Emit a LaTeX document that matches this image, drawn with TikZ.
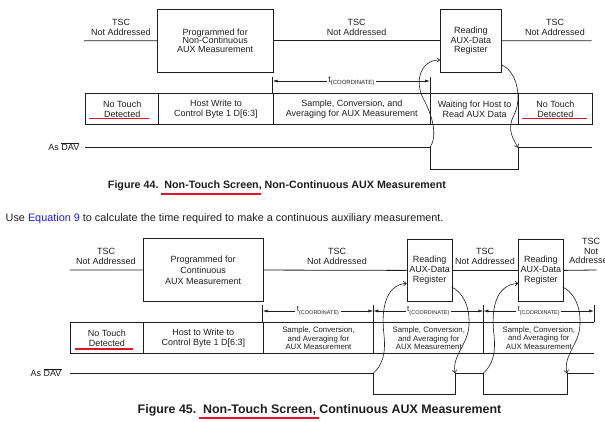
\documentclass[tikz,border=0pt]{standalone}
\usepackage{fontspec}
\setmainfont{Liberation Sans}
\usetikzlibrary{arrows.meta}
\definecolor{ulred}{RGB}{226,18,38}
\definecolor{linkblue}{RGB}{25,25,240}
\definecolor{ink}{RGB}{30,30,30}
\newcommand{\tcoordlbl}[2]{\fontsize{#1}{#1}\selectfont t\raisebox{-0.28em}{\fontsize{#2}{#2}\selectfont(COORDINATE)}}
\begin{document}
\begin{tikzpicture}[x=1pt,y=-1pt,
  every node/.style={text=ink,font=\fontsize{9}{10}\selectfont,inner sep=0pt},
  box/.style={draw=ink,line width=0.8pt,align=center,anchor=north west},
  cell/.style={draw=ink,line width=0.9pt,align=center,anchor=north west},
  lbl/.style={align=center},
  wire/.style={draw=ink,line width=0.8pt},
  rowline/.style={draw=ink,line width=0.9pt},
  dim/.style={draw=ink,line width=0.6pt,{Latex[length=5pt,width=3pt]}-{Latex[length=5pt,width=3pt]}},
  tick/.style={draw=ink,line width=0.6pt},
  flow/.style={draw=ink,line width=0.6pt,-{To[length=3.5pt,width=5pt]}},
  redline/.style={draw=ulred,line width=1.7pt},
  small/.style={font=\fontsize{7.8}{8.3}\selectfont},
  tlab/.style={fill=white,inner xsep=1.5pt,inner ysep=1pt},
]
\useasboundingbox (0,0) rectangle (605,422);

% ================= TOP DIAGRAM =================
\node[box,minimum width=115.7,minimum height=62.7,font=\fontsize{9}{8.6}\selectfont] (progA) at (157,9) {Programmed for\\Non-Continuous\\AUX Measurement};
\node[box,minimum width=61,minimum height=62.7,font=\fontsize{9}{9.6}\selectfont] (readA) at (440,9) {Reading\\AUX-Data\\Register};

\node[lbl] (tscA1) at (121,27.3) {TSC\\Not Addressed};
\node[lbl] (tscA2) at (356.7,27.3) {TSC\\Not Addressed};
\node[lbl] (tscA3) at (555,27.3) {TSC\\Not Addressed};

\coordinate (lA0) at (84,40.7);
\coordinate (lA1) at (591.7,40.7);
\draw[wire] (lA0) -- (progA.west);
\draw[wire] (progA.east) -- (readA.west);
\draw[wire] (readA.east) -- (lA1);

\node[cell,minimum width=73,minimum height=31.6] (a1) at (85.3,92.7) {No Touch\\Detected};
\node[cell,minimum width=114.4,minimum height=31.6] (a2) at (158.3,92.7) {Host Write to\\Control Byte 1 D[6:3]};
\node[cell,minimum width=157.3,minimum height=31.6] (a3) at (272.7,92.7) {Sample, Conversion, and\\Averaging for AUX Measurement};
\node[cell,minimum width=88.3,minimum height=31.6] (a4) at (430,92.7) {Waiting for Host to\\Read AUX Data};
\node[cell,minimum width=73.4,minimum height=31.6] (a5) at (518.3,92.7) {No Touch\\Detected};

\draw[redline] (89.3,118.6) -- (149,118.6);
\draw[redline] (521.7,118.6) -- (586.7,118.6);

\coordinate (tkA0) at (272.7,77); \coordinate (tkA1) at (430,77);
\draw[tick] (tkA0) -- (272.7,92.7);
\draw[tick] (tkA1) -- (430,92.7);
\coordinate (dA0) at (272.7,81); \coordinate (dA1) at (430,81);
\draw[dim] (dA0) -- node[tlab] (tA) {\tcoordlbl{9}{6}} (dA1);

\node[anchor=base east] (davA) at (79.5,150.5) {As $\overline{\mbox{DAV}}$};
\coordinate (vA0) at (85,147.7);
\coordinate (vA1) at (430,147.7);
\coordinate (vA2) at (430,169);
\coordinate (vA3) at (518,169);
\coordinate (vA4) at (518,147.7);
\coordinate (vA5) at (591.7,147.7);
\draw[wire] (vA0) -- (vA1) -- (vA2) -- (vA3) -- (vA4) -- (vA5);

\coordinate (rAin) at (440,60);
\coordinate (rAout) at (501.7,65);
\draw[flow] (vA1) .. controls (438,135) and (432,115) .. (424,100) .. controls (414,82) and (420,60) .. (rAin);
\draw[flow] (rAout) .. controls (518,72) and (522,100) .. (514,115) .. controls (506,130) and (514,140) .. (vA4);

% captions / text
\node[font=\fontsize{10.7}{12}\selectfont\bfseries] (cap1) at (277,185.7) {Figure 44.\ \ Non-Touch Screen, Non-Continuous AUX Measurement};
\draw[redline] (161,194.3) -- (261,194.3);
\node[anchor=west,font=\fontsize{10.85}{12}\selectfont] (sent) at (5.5,219) {Use \textcolor{linkblue}{Equation 9} to calculate the time required to make a continuous auxiliary measurement.};

% ================= BOTTOM DIAGRAM =================
\node[box,minimum width=120,minimum height=62.7,font=\fontsize{9}{11}\selectfont] (progB) at (142.7,238.3) {Programmed for\\Continuous\\AUX Measurement};
\node[box,minimum width=45,minimum height=62,font=\fontsize{9}{10}\selectfont] (readB1) at (406.7,239) {Reading\\AUX-Data\\Register};
\node[box,minimum width=44.4,minimum height=62,font=\fontsize{9}{10}\selectfont] (readB2) at (518.3,239) {Reading\\AUX-Data\\Register};

\node[lbl] (tscB1) at (106,256.9) {TSC\\Not Addressed};
\node[lbl] (tscB2) at (337,256.9) {TSC\\Not Addressed};
\node[lbl] (tscB3) at (485,256.9) {TSC\\Not Addressed};
\node[lbl,font=\fontsize{9}{9.5}\selectfont] (tscB4) at (591,251.2) {TSC\\Not\\Addressed};

\coordinate (lB0) at (69.7,270);
\coordinate (lB1) at (596.7,270);
\draw[wire] (lB0) -- (progB.west);
\draw[wire] (progB.east) -- (readB1.west);
\draw[wire] (readB1.east) -- (readB2.west);
\draw[wire] (readB2.east) -- (lB1);

\node[cell,minimum width=73,minimum height=31] (b1) at (70,322.3) {No Touch\\Detected};
\node[cell,minimum width=119.7,minimum height=31] (b2) at (143,322.3) {Host to Write to\\Control Byte 1 D[6:3]};
\node[cell,small,minimum width=110.6,minimum height=31] (b3) at (262.7,322.3) {Sample, Conversion,\\and Averaging for\\AUX Measurement};
\node[cell,small,minimum width=110,minimum height=31] (b4) at (373.3,322.3) {Sample, Conversion,\\and Averaging for\\AUX Measurement};
\node[small,align=center,anchor=north west,minimum width=110.7,minimum height=31] (b5) at (483.3,322.3) {Sample, Conversion,\\and Averaging for\\AUX Measurement};
\draw[rowline] (b5.north west) -- (b5.north east);
\draw[rowline] (b5.south west) -- (b5.south east);

\draw[redline] (75,349) -- (132.7,349);

\coordinate (tkB0) at (262.7,305); \coordinate (tkB1) at (373.3,305);
\coordinate (tkB2) at (483.3,305); \coordinate (tkB3) at (594,305);
\draw[tick] (tkB0) -- (262.7,322.3);
\draw[tick] (tkB1) -- (373.3,322.3);
\draw[tick] (tkB2) -- (483.3,322.3);
\draw[tick] (tkB3) -- (594,322.3);
\coordinate (dB0) at (262.7,311); \coordinate (dB1) at (373.3,311);
\coordinate (dB2) at (483.3,311); \coordinate (dB3) at (594,311);
\draw[dim] (dB0) -- node[tlab] (tB1) {\tcoordlbl{8}{5.5}} (dB1);
\draw[dim] (dB1) -- node[tlab] (tB2) {\tcoordlbl{8}{5.5}} (dB2);
\draw[dim] (dB2) -- node[tlab] (tB3) {\tcoordlbl{8}{5.5}} (dB3);

\node[anchor=base east] (davB) at (61.7,376.3) {As $\overline{\mbox{DAV}}$};
\coordinate (vB0) at (69.7,373.3);
\coordinate (vB1) at (373.3,373.3);
\coordinate (vB2) at (373.3,394);
\coordinate (vB3) at (455,394);
\coordinate (vB4) at (455,373.3);
\coordinate (vB5) at (483.3,373.3);
\coordinate (vB6) at (483.3,394);
\coordinate (vB7) at (567,394);
\coordinate (vB8) at (567,373.3);
\coordinate (vB9) at (594,373.3);
\draw[wire] (vB0) -- (vB1) -- (vB2) -- (vB3) -- (vB4) -- (vB5) -- (vB6) -- (vB7) -- (vB8) -- (vB9);

\coordinate (rB1in) at (406.7,283.3);
\coordinate (rB1out) at (451.7,287);
\coordinate (rB2in) at (518.3,283.3);
\coordinate (rB2out) at (562.7,287);
\draw[flow] (vB1) .. controls (382,365) and (386,355) .. (384,335) .. controls (381,310) and (385,285) .. (rB1in);
\draw[flow] (rB1out) .. controls (462,292) and (470,305) .. (469,325) .. controls (468,345) and (452,355) .. (vB4);
\draw[flow] (vB5) .. controls (492,365) and (496,355) .. (494,335) .. controls (491,310) and (495,285) .. (rB2in);
\draw[flow] (rB2out) .. controls (573,292) and (581,305) .. (580,325) .. controls (579,345) and (563,355) .. (vB8);

\node[font=\fontsize{12.4}{14}\selectfont\bfseries] (cap2) at (319.5,410) {Figure 45.\ \ Non-Touch Screen, Continuous AUX Measurement};
\draw[redline] (199.3,418.3) -- (319.3,418.3);
\end{tikzpicture}
\end{document}
